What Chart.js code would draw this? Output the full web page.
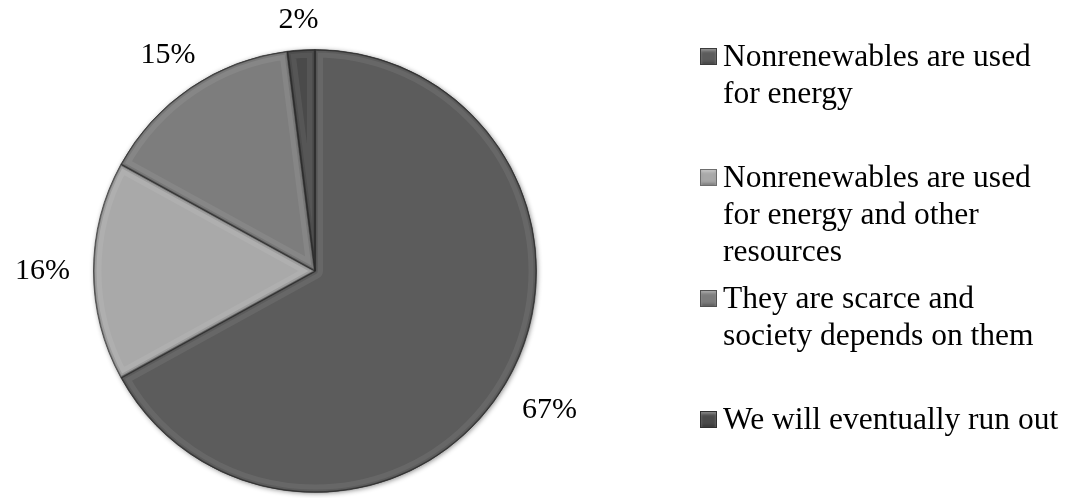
<!DOCTYPE html>
<html>
<head>
<meta charset="utf-8">
<script src="https://cdn.jsdelivr.net/npm/chart.js@4"></script>
<style>
  body { margin: 0; background: #fff; }
  #wrap { position: relative; width: 1086px; height: 498px; }
  #legend { position: absolute; left: 700px; top: 0; font-family: "Liberation Serif", "Times New Roman", serif; font-size: 31.5px; color: #000; }
  .item { position: absolute; left: 0; width: 385px; }
  .box { position: absolute; left: 0; width: 15px; height: 15px; border: 1px solid rgba(0,0,0,0.35);
         box-shadow: inset 0 2px 3px rgba(255,255,255,0.35), inset 0 -2px 3px rgba(0,0,0,0.25); }
  .txt { position: absolute; left: 23px; top: 0; line-height: 37px; white-space: nowrap; }
</style>
</head>
<body>
<div id="wrap">
  <canvas id="pie"></canvas>
  <div id="legend"></div>
</div>
<script>
const labels = [
    ['Nonrenewables are used', 'for energy'],
    ['Nonrenewables are used', 'for energy and other', 'resources'],
    ['They are scarce and', 'society depends on them'],
    ['We will eventually run out']
];
const values = [67, 16, 15, 2];
const colors = ['#5c5c5c', '#a9a9a9', '#7d7d7d', '#4a4a4a'];

// legend on the right, one slot per item
const legend = document.getElementById('legend');
labels.forEach((lines, i) => {
    const top = 37 + i * 121;
    const item = document.createElement('div');
    item.className = 'item';
    item.style.top = top + 'px';
    item.innerHTML = `<div class="box" style="top:${11}px;background:${colors[i]}"></div>
        <div class="txt">${lines.join('<br>')}</div>`;
    legend.appendChild(item);
});

// soft shadow round the pie
const pieShadow = {
    id: 'pieShadow',
    beforeDatasetsDraw(chart) {
        const arc = chart.getDatasetMeta(0).data[0];
        const ctx = chart.ctx;
        ctx.save();
        ctx.beginPath();
        ctx.arc(arc.x, arc.y, arc.outerRadius, 0, Math.PI * 2);
        ctx.shadowColor = 'rgba(0,0,0,0.45)';
        ctx.shadowBlur = 5;
        ctx.shadowOffsetX = 1;
        ctx.shadowOffsetY = 1;
        ctx.fillStyle = '#888';
        ctx.fill();
        ctx.restore();
    }
};

// bevel on each slice edge
const bevel = {
    id: 'bevel',
    afterDatasetsDraw(chart) {
        const ctx = chart.ctx;
        chart.getDatasetMeta(0).data.forEach(arc => {
            const path = () => {
                ctx.beginPath();
                ctx.moveTo(arc.x, arc.y);
                ctx.arc(arc.x, arc.y, arc.outerRadius, arc.startAngle, arc.endAngle);
                ctx.closePath();
            };
            ctx.save();
            path();
            ctx.clip();
            ctx.lineJoin = 'round';
            path();
            ctx.strokeStyle = 'rgba(255,255,255,0.07)';
            ctx.lineWidth = 16;
            ctx.stroke();
            path();
            ctx.strokeStyle = 'rgba(0,0,0,0.1)';
            ctx.lineWidth = 6;
            ctx.stroke();
            path();
            ctx.strokeStyle = 'rgba(0,0,0,0.3)';
            ctx.lineWidth = 2.5;
            ctx.stroke();
            ctx.restore();
        });
    }
};

// percentage labels outside the slices
const outLabels = {
    id: 'outLabels',
    afterDraw(chart) {
        const ctx = chart.ctx;
        ctx.save();
        ctx.font = '30px "Liberation Serif", "Times New Roman", serif';
        ctx.fillStyle = '#000';
        ctx.textAlign = 'center';
        ctx.textBaseline = 'middle';
        chart.getDatasetMeta(0).data.forEach((arc, i) => {
            const mid = (arc.startAngle + arc.endAngle) / 2;
            const up = Math.sin(mid) < -0.5;
            const d = arc.outerRadius + (up ? 40 : 51);
            const x = arc.x + Math.cos(mid) * d;
            const y = Math.max(20, arc.y + Math.sin(mid) * d);
            ctx.fillText(values[i] + '%', x, y);
        });
        ctx.restore();
    }
};

new Chart(document.getElementById('pie'), {
    type: 'pie',
    data: {
        labels: labels.map(l => l.join(' ')),
        datasets: [{
            data: values,
            backgroundColor: colors,
            borderColor: 'rgba(40,40,40,0.6)',
            borderWidth: 1
        }]
    },
    options: {
        responsive: true,
        maintainAspectRatio: false,
        animation: false,
        layout: { padding: { left: 93, right: 549, top: 49, bottom: 5 } },
        plugins: {
            legend: { display: false },
            tooltip: { enabled: false }
        }
    },
    plugins: [pieShadow, bevel, outLabels]
});
</script>
</body>
</html>
